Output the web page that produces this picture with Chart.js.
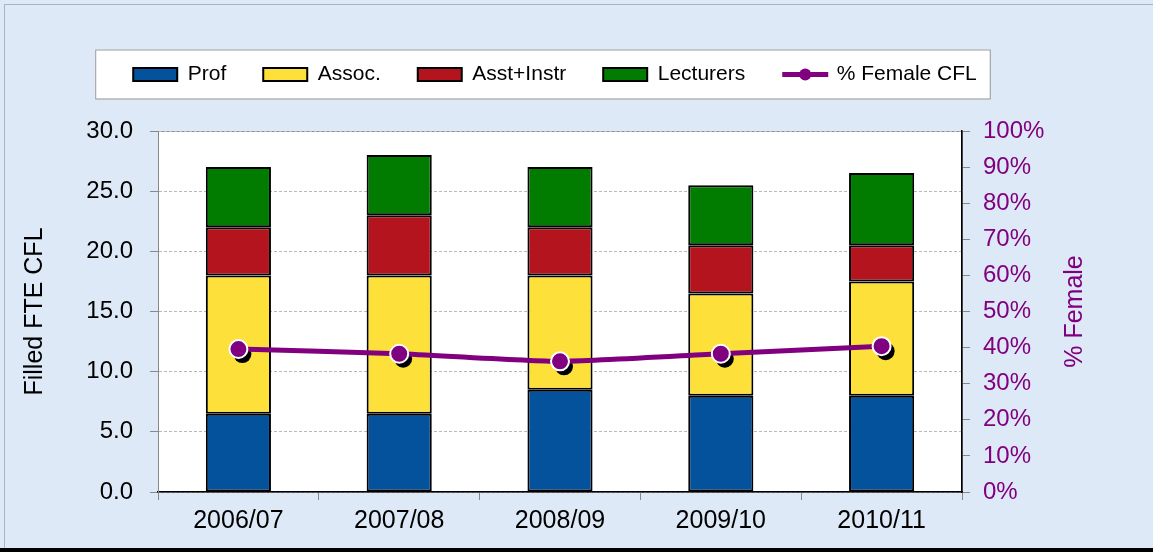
<!DOCTYPE html>
<html>
<head>
<meta charset="utf-8">
<script src="https://cdn.jsdelivr.net/npm/chart.js@4.4.1/dist/chart.umd.min.js"></script>
<style>
    html, body { margin: 0; padding: 0; background: #dde9f6; }
    #wrap { width: 1153px; height: 552px; position: relative; }
</style>
</head>
<body>
<div id="wrap"><canvas id="cflChart"></canvas></div>
<script>
const years = ['2006/07', '2007/08', '2008/09', '2009/10', '2010/11'];
const prof = [6.5, 6.5, 8.5, 8.0, 8.0];
const assoc = [11.5, 11.5, 9.5, 8.5, 9.5];
const asstInstr = [4.0, 5.0, 4.0, 4.0, 3.0];
const lecturers = [5.0, 5.0, 5.0, 5.0, 6.0];
const pctFemale = [39.6, 38.3, 36.2, 38.3, 40.4];

const leftTicks = [0, 30, 5];
const rightTicks = [0, 100, 10];

const PURPLE = '#800080';

Chart.defaults.font.family = "'Liberation Sans', Arial, sans-serif";

// background pieces, legend frame, marker shadows, custom legend symbol
const chartDecor = {
    id: 'chartDecor',
    beforeDraw(chart) {
        const {ctx, chartArea: a, width, height} = chart;
        ctx.save();
        ctx.strokeStyle = '#a8b4c4';
        ctx.lineWidth = 1;
        ctx.strokeRect(4.5, 4.5, width, height);
        ctx.fillStyle = '#000';
        ctx.fillRect(0, height - 4, width, 4);

        ctx.fillStyle = '#fff';
        ctx.fillRect(a.left, a.top, a.width, a.height);
        ctx.strokeStyle = '#8c8c8c';
        ctx.strokeRect(a.left + 0.5, a.top + 0.5, a.width, a.height);

        const boxes = chart.legend.legendHitBoxes;
        if (boxes && boxes.length) {
            const first = boxes[0], last = boxes[boxes.length - 1];
            const cy = first.top + first.height / 2;
            const x0 = first.left - 38, x1 = last.left + last.width + 13;
            ctx.fillStyle = '#fff';
            ctx.fillRect(x0, cy - 25, x1 - x0, 49);
            ctx.strokeStyle = '#9a9a9a';
            ctx.strokeRect(x0 + 0.5, cy - 25 + 0.5, x1 - x0, 49);
        }
        ctx.restore();
    },
    beforeDatasetDraw(chart, args) {
        const ds = chart.data.datasets[args.index];
        if (ds.type !== 'line') return;
        const ctx = chart.ctx;
        ctx.save();
        ctx.fillStyle = '#000';
        args.meta.data.forEach(pt => {
            ctx.beginPath();
            ctx.arc(pt.x + 4, pt.y + 5, 9, 0, Math.PI * 2);
            ctx.fill();
        });
        ctx.restore();
    },
    afterDraw(chart) {
        const ctx = chart.ctx;
        const boxes = chart.legend.legendHitBoxes;
        const items = chart.legend.legendItems;
        ctx.save();
        items.forEach((item, i) => {
            if (chart.data.datasets[item.datasetIndex].type !== 'line') return;
            const hb = boxes[i];
            const cy = hb.top + hb.height / 2;
            ctx.strokeStyle = PURPLE;
            ctx.lineWidth = 5;
            ctx.beginPath();
            ctx.moveTo(hb.left, cy);
            ctx.lineTo(hb.left + 46, cy);
            ctx.stroke();
            ctx.fillStyle = PURPLE;
            ctx.beginPath();
            ctx.arc(hb.left + 23, cy, 6, 0, Math.PI * 2);
            ctx.fill();
        });

        // right axis title reads bottom to top
        const y1 = chart.scales.y1;
        const a = chart.chartArea;
        ctx.translate(y1.right - 30, (a.top + a.bottom) / 2);
        ctx.rotate(-Math.PI / 2);
        ctx.fillStyle = PURPLE;
        ctx.font = "25px 'Liberation Sans', Arial, sans-serif";
        ctx.textAlign = 'center';
        ctx.textBaseline = 'middle';
        ctx.fillText('% Female', 0, 0);
        ctx.restore();
    }
};

const barStyle = {
    borderColor: '#000',
    borderWidth: 2,
    borderSkipped: false,
    categoryPercentage: 1.0,
    barPercentage: 0.405,
    yAxisID: 'y',
    order: 1
};

new Chart(document.getElementById('cflChart'), {
    type: 'bar',
    data: {
        labels: years,
        datasets: [
            {label: 'Prof', data: prof, backgroundColor: '#03529b', ...barStyle},
            {label: 'Assoc.', data: assoc, backgroundColor: '#fde13a', ...barStyle},
            {label: 'Asst+Instr', data: asstInstr, backgroundColor: '#b3141e', ...barStyle},
            {label: 'Lecturers', data: lecturers, backgroundColor: '#017c01', ...barStyle},
            {
                type: 'line',
                label: '% Female CFL',
                data: pctFemale,
                yAxisID: 'y1',
                borderColor: PURPLE,
                backgroundColor: PURPLE,
                borderWidth: 5,
                tension: 0.2,
                pointRadius: 9,
                pointBackgroundColor: PURPLE,
                pointBorderColor: '#fff',
                pointBorderWidth: 2,
                order: 0
            }
        ]
    },
    options: {
        responsive: true,
        maintainAspectRatio: false,
        animation: false,
        layout: {padding: {top: 27, left: 5, right: 48, bottom: 0}},
        plugins: {
            legend: {
                position: 'top',
                weight: 2000,
                labels: {
                    color: '#000',
                    boxWidth: 44,
                    boxHeight: 13,
                    padding: 37,
                    font: {size: 21},
                    sort: (a, b) => a.datasetIndex - b.datasetIndex,
                    generateLabels(chart) {
                        const items = Chart.defaults.plugins.legend.labels.generateLabels(chart);
                        items.forEach(it => {
                            if (chart.data.datasets[it.datasetIndex].type === 'line') {
                                it.fillStyle = 'rgba(0,0,0,0)';
                                it.strokeStyle = 'rgba(0,0,0,0)';
                                it.lineWidth = 0;
                            }
                        });
                        return items;
                    }
                }
            },
            title: {display: true, text: '', weight: 500, padding: 0, font: {size: 30}},
            tooltip: {enabled: false}
        },
        scales: {
            x: {
                stacked: true,
                grid: {drawOnChartArea: false, offset: true, color: '#888', tickLength: 8},
                border: {color: '#000', width: 1.5},
                ticks: {color: '#000', font: {size: 25}, padding: 6},
                afterFit: s => { s.height = 60; }
            },
            y: {
                stacked: true,
                position: 'left',
                min: leftTicks[0],
                max: leftTicks[1],
                ticks: {
                    stepSize: leftTicks[2],
                    color: '#000',
                    font: {size: 24},
                    padding: 17,
                    callback: v => v.toFixed(1)
                },
                grid: {color: '#b8b8b8', tickColor: '#888', tickLength: 8},
                border: {color: '#888', dash: [3, 2]},
                title: {
                    display: true,
                    text: 'Filled FTE CFL',
                    color: '#000',
                    font: {size: 25},
                    padding: {top: 15, bottom: 0}
                },
                afterFit: s => { s.width = 153; }
            },
            y1: {
                position: 'right',
                min: rightTicks[0],
                max: rightTicks[1],
                ticks: {
                    stepSize: rightTicks[2],
                    color: PURPLE,
                    font: {size: 24},
                    padding: 13,
                    callback: v => v + '%'
                },
                grid: {drawOnChartArea: false, color: '#888', tickLength: 8},
                border: {color: '#000', width: 1.5},
                afterFit: s => { s.width = 143; }
            }
        }
    },
    plugins: [chartDecor]
});
</script>
</body>
</html>
